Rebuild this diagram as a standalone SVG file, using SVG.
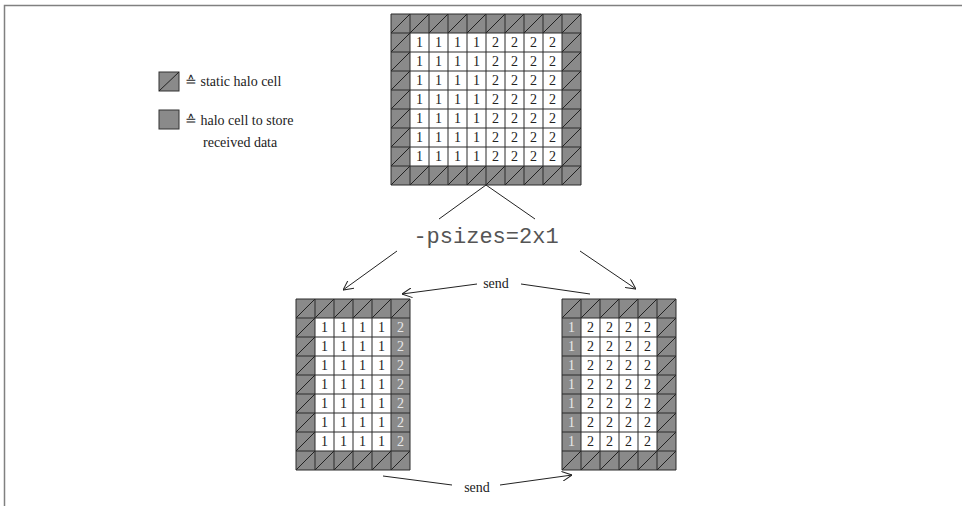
<svg xmlns="http://www.w3.org/2000/svg" width="962" height="506" viewBox="0 0 962 506">
<style>
.grid{fill:none;stroke:#2a2a2a;stroke-width:1}
.num{font-family:"Liberation Serif","Times New Roman",serif;font-size:14px;fill:#222;text-anchor:middle}
.rnum{fill:#e8e8e8}
.lbl{font-family:"Liberation Serif","Times New Roman",serif;font-size:14px;fill:#222}
.mono{font-family:"Liberation Mono","Courier New",monospace;font-size:22px;fill:#555;text-anchor:middle}
.conn{fill:none;stroke:#222;stroke-width:1}
.recv{fill:#8a8a8a}
.white{fill:#fff}
.frame{fill:none;stroke:#808080;stroke-width:1.5}
</style>
<defs>
<pattern id="halo" patternUnits="userSpaceOnUse" x="11" y="14" width="19" height="19">
<rect width="19" height="19" fill="#8a8a8a"/>
<line x1="0" y1="19" x2="19" y2="0" stroke="#222" stroke-width="1"/>
</pattern>
<marker id="arr" viewBox="0 0 10 10" refX="10" refY="5" markerWidth="10" markerHeight="10" markerUnits="userSpaceOnUse" orient="auto">
<path d="M0 0 L10 5 L0 10" fill="none" stroke="#222" stroke-width="1"/>
</marker>
</defs>
<rect width="962" height="506" fill="#fff"/>
<path class="frame" d="M4.5 506 V5.5 H962"/>

<g id="legend">
<rect x="159" y="72" width="20" height="19" fill="#8a8a8a" stroke="#333"/>
<line x1="159" y1="91" x2="179" y2="72" stroke="#222"/>
<text class="lbl" x="185" y="86">≙ static halo cell</text>
<rect x="159" y="110" width="20" height="19" fill="#8a8a8a" stroke="#333"/>
<text class="lbl" x="185" y="125">≙ halo cell to store</text>
<text class="lbl" x="203" y="147">received data</text>
</g>

<g id="grid-global">
<rect x="391" y="14" width="190" height="171" fill="url(#halo)"/>
<rect class="white" x="410" y="33" width="152" height="133"/>
<path class="grid" d="M391 14V185M410 14V185M429 14V185M448 14V185M467 14V185M486 14V185M505 14V185M524 14V185M543 14V185M562 14V185M581 14V185M391 14H581M391 33H581M391 52H581M391 71H581M391 90H581M391 109H581M391 128H581M391 147H581M391 166H581M391 185H581"/>
<g class="num">
<text x="419.5" y="47">1</text><text x="438.5" y="47">1</text><text x="457.5" y="47">1</text><text x="476.5" y="47">1</text><text x="495.5" y="47">2</text><text x="514.5" y="47">2</text><text x="533.5" y="47">2</text><text x="552.5" y="47">2</text>
<text x="419.5" y="66">1</text><text x="438.5" y="66">1</text><text x="457.5" y="66">1</text><text x="476.5" y="66">1</text><text x="495.5" y="66">2</text><text x="514.5" y="66">2</text><text x="533.5" y="66">2</text><text x="552.5" y="66">2</text>
<text x="419.5" y="85">1</text><text x="438.5" y="85">1</text><text x="457.5" y="85">1</text><text x="476.5" y="85">1</text><text x="495.5" y="85">2</text><text x="514.5" y="85">2</text><text x="533.5" y="85">2</text><text x="552.5" y="85">2</text>
<text x="419.5" y="104">1</text><text x="438.5" y="104">1</text><text x="457.5" y="104">1</text><text x="476.5" y="104">1</text><text x="495.5" y="104">2</text><text x="514.5" y="104">2</text><text x="533.5" y="104">2</text><text x="552.5" y="104">2</text>
<text x="419.5" y="123">1</text><text x="438.5" y="123">1</text><text x="457.5" y="123">1</text><text x="476.5" y="123">1</text><text x="495.5" y="123">2</text><text x="514.5" y="123">2</text><text x="533.5" y="123">2</text><text x="552.5" y="123">2</text>
<text x="419.5" y="142">1</text><text x="438.5" y="142">1</text><text x="457.5" y="142">1</text><text x="476.5" y="142">1</text><text x="495.5" y="142">2</text><text x="514.5" y="142">2</text><text x="533.5" y="142">2</text><text x="552.5" y="142">2</text>
<text x="419.5" y="161">1</text><text x="438.5" y="161">1</text><text x="457.5" y="161">1</text><text x="476.5" y="161">1</text><text x="495.5" y="161">2</text><text x="514.5" y="161">2</text><text x="533.5" y="161">2</text><text x="552.5" y="161">2</text>
</g>
</g>

<g id="label-psizes">
<text class="mono" x="486" y="243">-psizes=2x1</text>
</g>

<g id="grid-proc1">
<rect x="296" y="299" width="114" height="171" fill="url(#halo)"/>
<rect class="white" x="315" y="318" width="76" height="133"/>
<rect class="recv" x="391" y="318" width="19" height="133"/>
<path class="grid" d="M296 299V470M315 299V470M334 299V470M353 299V470M372 299V470M391 299V470M410 299V470M296 299H410M296 318H410M296 337H410M296 356H410M296 375H410M296 394H410M296 413H410M296 432H410M296 451H410M296 470H410"/>
<g class="num">
<text x="324.5" y="332">1</text><text x="343.5" y="332">1</text><text x="362.5" y="332">1</text><text x="381.5" y="332">1</text><text class="rnum" x="400.5" y="332">2</text>
<text x="324.5" y="351">1</text><text x="343.5" y="351">1</text><text x="362.5" y="351">1</text><text x="381.5" y="351">1</text><text class="rnum" x="400.5" y="351">2</text>
<text x="324.5" y="370">1</text><text x="343.5" y="370">1</text><text x="362.5" y="370">1</text><text x="381.5" y="370">1</text><text class="rnum" x="400.5" y="370">2</text>
<text x="324.5" y="389">1</text><text x="343.5" y="389">1</text><text x="362.5" y="389">1</text><text x="381.5" y="389">1</text><text class="rnum" x="400.5" y="389">2</text>
<text x="324.5" y="408">1</text><text x="343.5" y="408">1</text><text x="362.5" y="408">1</text><text x="381.5" y="408">1</text><text class="rnum" x="400.5" y="408">2</text>
<text x="324.5" y="427">1</text><text x="343.5" y="427">1</text><text x="362.5" y="427">1</text><text x="381.5" y="427">1</text><text class="rnum" x="400.5" y="427">2</text>
<text x="324.5" y="446">1</text><text x="343.5" y="446">1</text><text x="362.5" y="446">1</text><text x="381.5" y="446">1</text><text class="rnum" x="400.5" y="446">2</text>
</g>
</g>

<g id="grid-proc2">
<rect x="562" y="299" width="114" height="171" fill="url(#halo)"/>
<rect class="white" x="581" y="318" width="76" height="133"/>
<rect class="recv" x="562" y="318" width="19" height="133"/>
<path class="grid" d="M562 299V470M581 299V470M600 299V470M619 299V470M638 299V470M657 299V470M676 299V470M562 299H676M562 318H676M562 337H676M562 356H676M562 375H676M562 394H676M562 413H676M562 432H676M562 451H676M562 470H676"/>
<g class="num">
<text class="rnum" x="571.5" y="332">1</text><text x="590.5" y="332">2</text><text x="609.5" y="332">2</text><text x="628.5" y="332">2</text><text x="647.5" y="332">2</text>
<text class="rnum" x="571.5" y="351">1</text><text x="590.5" y="351">2</text><text x="609.5" y="351">2</text><text x="628.5" y="351">2</text><text x="647.5" y="351">2</text>
<text class="rnum" x="571.5" y="370">1</text><text x="590.5" y="370">2</text><text x="609.5" y="370">2</text><text x="628.5" y="370">2</text><text x="647.5" y="370">2</text>
<text class="rnum" x="571.5" y="389">1</text><text x="590.5" y="389">2</text><text x="609.5" y="389">2</text><text x="628.5" y="389">2</text><text x="647.5" y="389">2</text>
<text class="rnum" x="571.5" y="408">1</text><text x="590.5" y="408">2</text><text x="609.5" y="408">2</text><text x="628.5" y="408">2</text><text x="647.5" y="408">2</text>
<text class="rnum" x="571.5" y="427">1</text><text x="590.5" y="427">2</text><text x="609.5" y="427">2</text><text x="628.5" y="427">2</text><text x="647.5" y="427">2</text>
<text class="rnum" x="571.5" y="446">1</text><text x="590.5" y="446">2</text><text x="609.5" y="446">2</text><text x="628.5" y="446">2</text><text x="647.5" y="446">2</text>
</g>
</g>

<g id="connectors">
<path class="conn" d="M486 185 L439 219"/>
<path class="conn" d="M486 185 L535 219"/>
<path class="conn" d="M397 251 L343 290" marker-end="url(#arr)"/>
<path class="conn" d="M580 251 L636 289" marker-end="url(#arr)"/>
<path class="conn" d="M477 284 L402 294" marker-end="url(#arr)"/>
<path class="conn" d="M521 284 L590 294"/>
<path class="conn" d="M383 476 L452 485"/>
<path class="conn" d="M500 485 L572 475" marker-end="url(#arr)"/>
<text class="lbl" x="496" y="288" text-anchor="middle">send</text>
<text class="lbl" x="477" y="492" text-anchor="middle">send</text>
</g>
</svg>
